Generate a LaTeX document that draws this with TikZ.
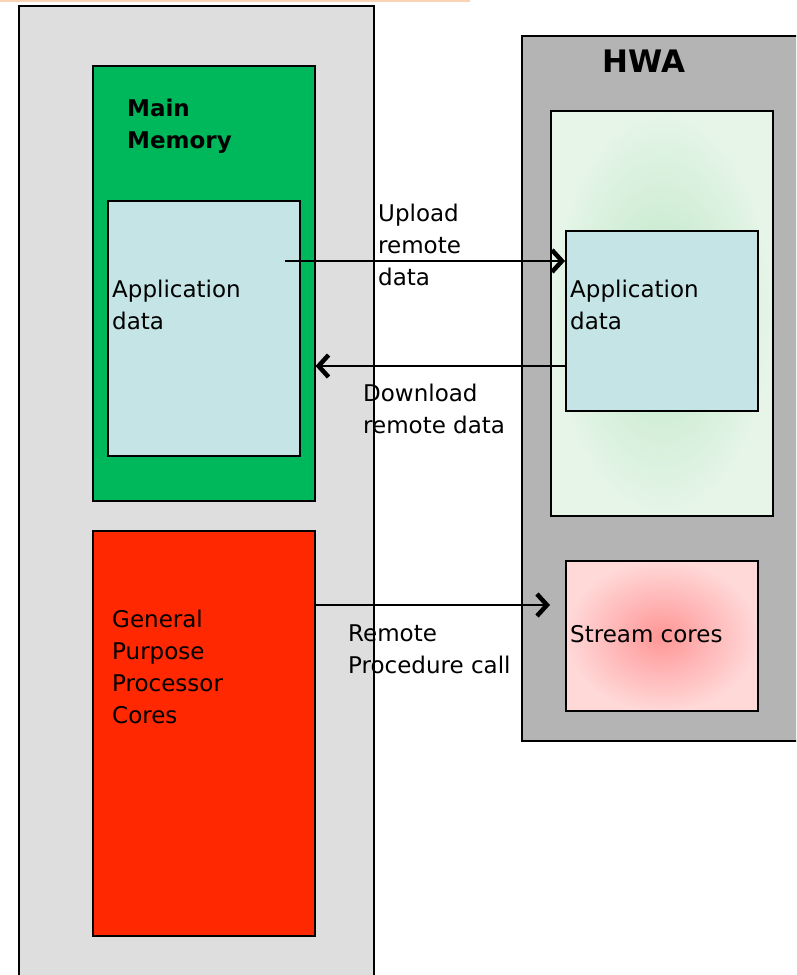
\documentclass[tikz,border=0pt]{standalone}
\usepackage{fontspec}
\setmainfont{DejaVu Sans}
\usetikzlibrary{arrows.meta}
\definecolor{hostgray}{RGB}{222,222,222}
\definecolor{hwagray}{RGB}{180,180,180}
\definecolor{memgreen}{RGB}{0,184,92}
\definecolor{datacyan}{RGB}{197,228,230}
\definecolor{cpured}{RGB}{255,40,0}
\definecolor{topline}{RGB}{250,210,180}
\definecolor{glowgreen}{RGB}{188,230,198}
\definecolor{palegreen}{RGB}{230,245,232}
\definecolor{glowred}{RGB}{255,150,150}
\definecolor{palered}{RGB}{255,216,216}

\tikzset{
  box/.style={draw=black, line width=1.5pt, anchor=north west, inner sep=0pt},
  lbl/.style={anchor=base west, align=left, inner sep=0pt, font=\fontsize{23}{32}\selectfont},
  conn/.style={line width=1.2pt, -{Straight Barb[length=10pt,width=22pt,line width=4.5pt]}}
}

\begin{document}
\begin{tikzpicture}[x=1pt,y=-1pt]
  \useasboundingbox (0,0) rectangle (796,975);
  \clip (0,0) rectangle (796,975);
  \fill[topline] (0,0) rectangle (470,2);

  % host side
  \node[box, fill=hostgray, minimum width=355pt, minimum height=1000pt] (host) at (18,5) {};
  \node[box, fill=memgreen, minimum width=222pt, minimum height=435pt] (mainmem) at (92,65) {};
  \node[box, fill=datacyan, minimum width=192pt, minimum height=255pt] (appL) at (107,200) {};
  \node[box, fill=cpured, minimum width=222pt, minimum height=405pt] (gpp) at (92,530) {};

  % accelerator side
  \node[box, fill=hwagray, minimum width=300pt, minimum height=705pt] (hwa) at (521,35) {};
  \node[box, inner color=glowgreen, outer color=palegreen, minimum width=222pt, minimum height=405pt] (hwamem) at (550,110) {};
  \node[box, fill=datacyan, minimum width=192pt, minimum height=180pt] (appR) at (565,230) {};
  \node[box, inner color=glowred, outer color=palered, minimum width=192pt, minimum height=150pt] (stream) at (565,560) {};

  % connectors
  \coordinate (upstart) at (285,261);
  \coordinate (downstart) at (565,366);
  \coordinate (rpcstart) at (314,605);
  \draw[conn] (upstart) -- (upstart -| appR.west);
  \draw[conn] (downstart) -- (downstart -| mainmem.east);
  \draw[conn] (rpcstart) -- (rpcstart -| hwamem.west);

  % texts (base = last line)
  \node[lbl, font=\fontsize{23}{32}\selectfont\bfseries] (mainmemtxt) at (127,148) {Main\\Memory};
  \node[lbl] (appLtxt) at (112,329) {Application\\data};
  \node[lbl] (gpptxt) at (112,723) {General\\Purpose\\Processor\\Cores};
  \node[lbl, anchor=base, font=\fontsize{31}{36}\selectfont\bfseries] (hwatxt) at (644,72) {HWA};
  \node[lbl] (appRtxt) at (570,329) {Application\\data};
  \node[lbl] (streamtxt) at (570,642) {Stream cores};
  \node[lbl] (uptxt) at (378,285) {Upload\\remote\\data};
  \node[lbl] (downtxt) at (363,433) {Download\\remote data};
  \node[lbl] (rpctxt) at (348,673) {Remote\\Procedure call};
\end{tikzpicture}
\end{document}
